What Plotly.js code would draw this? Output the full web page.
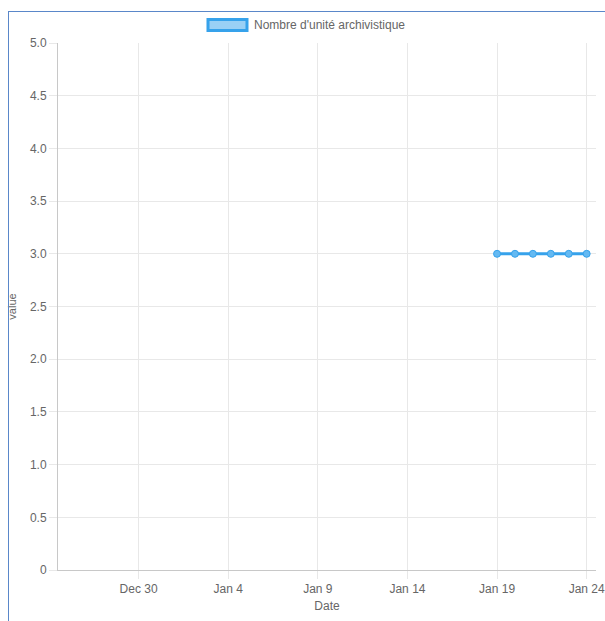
<!DOCTYPE html>
<html>
<head>
<meta charset="utf-8">
<script src="https://cdn.plot.ly/plotly-3.0.1.min.js"></script>
<style>
  html, body { margin: 0; padding: 0; background: #fff; }
  #wrap { position: relative; width: 605px; height: 621px; overflow: hidden; }
  #chart { position: absolute; left: 0; top: 0; width: 605px; height: 621px; }
  #frame { position: absolute; left: 8px; top: 11px; right: 0; bottom: 0;
           border-left: 1px solid #5a87c9; border-top: 1px solid #5a87c9; pointer-events: none; }
</style>
</head>
<body>
<div id="wrap">
  <div id="chart"></div>
  <div id="frame"></div>
</div>
<script>
// Data
const seriesName = "Nombre d'unité archivistique";
const dates = ['2019-01-19', '2019-01-20', '2019-01-21', '2019-01-22', '2019-01-23', '2019-01-24'];
const values = [3, 3, 3, 3, 3, 3];
const yTickVals = [0, 0.5, 1, 1.5, 2, 2.5, 3, 3.5, 4, 4.5, 5];
const yTickText = ['0', '0.5', '1.0', '1.5', '2.0', '2.5', '3.0', '3.5', '4.0', '4.5', '5.0'];
const xTickVals = ['2018-12-30', '2019-01-04', '2019-01-09', '2019-01-14', '2019-01-19', '2019-01-24'];
const xTickText = ['Dec 30', 'Jan 4', 'Jan 9', 'Jan 14', 'Jan 19', 'Jan 24'];

const blue = 'rgb(54,162,235)';
const font = 'Liberation Sans, Arial, Helvetica, sans-serif';

const trace = {
  type: 'scatter',
  mode: 'lines+markers',
  x: dates,
  y: values,
  name: seriesName,
  line: { color: blue, width: 3 },
  marker: { size: 7, color: 'rgba(100,185,242,1)', line: { color: blue, width: 1 } },
  showlegend: false,
  hoverinfo: 'x+y'
};

const layout = {
  width: 605,
  height: 621,
  margin: { l: 58, r: 9, t: 43, b: 51 },
  paper_bgcolor: 'rgba(0,0,0,0)',
  plot_bgcolor: '#fff',
  font: { family: font, size: 12, color: '#666' },
  showlegend: false,
  xaxis: {
    type: 'date',
    range: ['2018-12-25 12:00', '2019-01-24 12:30'],
    tickvals: xTickVals,
    ticktext: xTickText,
    ticklabeloverflow: 'allow',
    showgrid: true,
    gridcolor: '#e8e8e8',
    gridwidth: 1,
    ticks: 'outside',
    ticklen: 8,
    tickcolor: '#e8e8e8',
    showline: true,
    linecolor: '#c8c8c8',
    linewidth: 1,
    zeroline: false,
    tickfont: { family: font, size: 12, color: '#666' },
    title: { text: 'Date', font: { family: font, size: 12, color: '#666' }, standoff: 6 },
    automargin: false,
    fixedrange: true
  },
  yaxis: {
    range: [0, 5],
    tickvals: yTickVals,
    ticktext: yTickText,
    showgrid: true,
    gridcolor: '#e8e8e8',
    gridwidth: 1,
    ticks: 'outside',
    ticklen: 8,
    tickcolor: '#e8e8e8',
    showline: true,
    linecolor: '#c8c8c8',
    linewidth: 1,
    zeroline: false,
    tickfont: { family: font, size: 12, color: '#666' },
    title: { text: 'value', font: { family: font, size: 11, color: '#666' }, standoff: 11 },
    automargin: false,
    fixedrange: true
  },
  shapes: [
    {
      type: 'rect', xref: 'paper', yref: 'paper',
      x0: 0.2788, x1: 0.3513, y0: 1.0235, y1: 1.0445,
      fillcolor: 'rgba(54,162,235,0.5)',
      line: { color: blue, width: 3 }
    }
  ],
  annotations: [
    {
      xref: 'paper', yref: 'paper',
      x: 0.3606, y: 1.034,
      xanchor: 'left', yanchor: 'middle',
      text: seriesName,
      showarrow: false,
      font: { family: font, size: 12, color: '#666' }
    }
  ]
};

Plotly.newPlot('chart', [trace], layout, { displayModeBar: false });
</script>
</body>
</html>
